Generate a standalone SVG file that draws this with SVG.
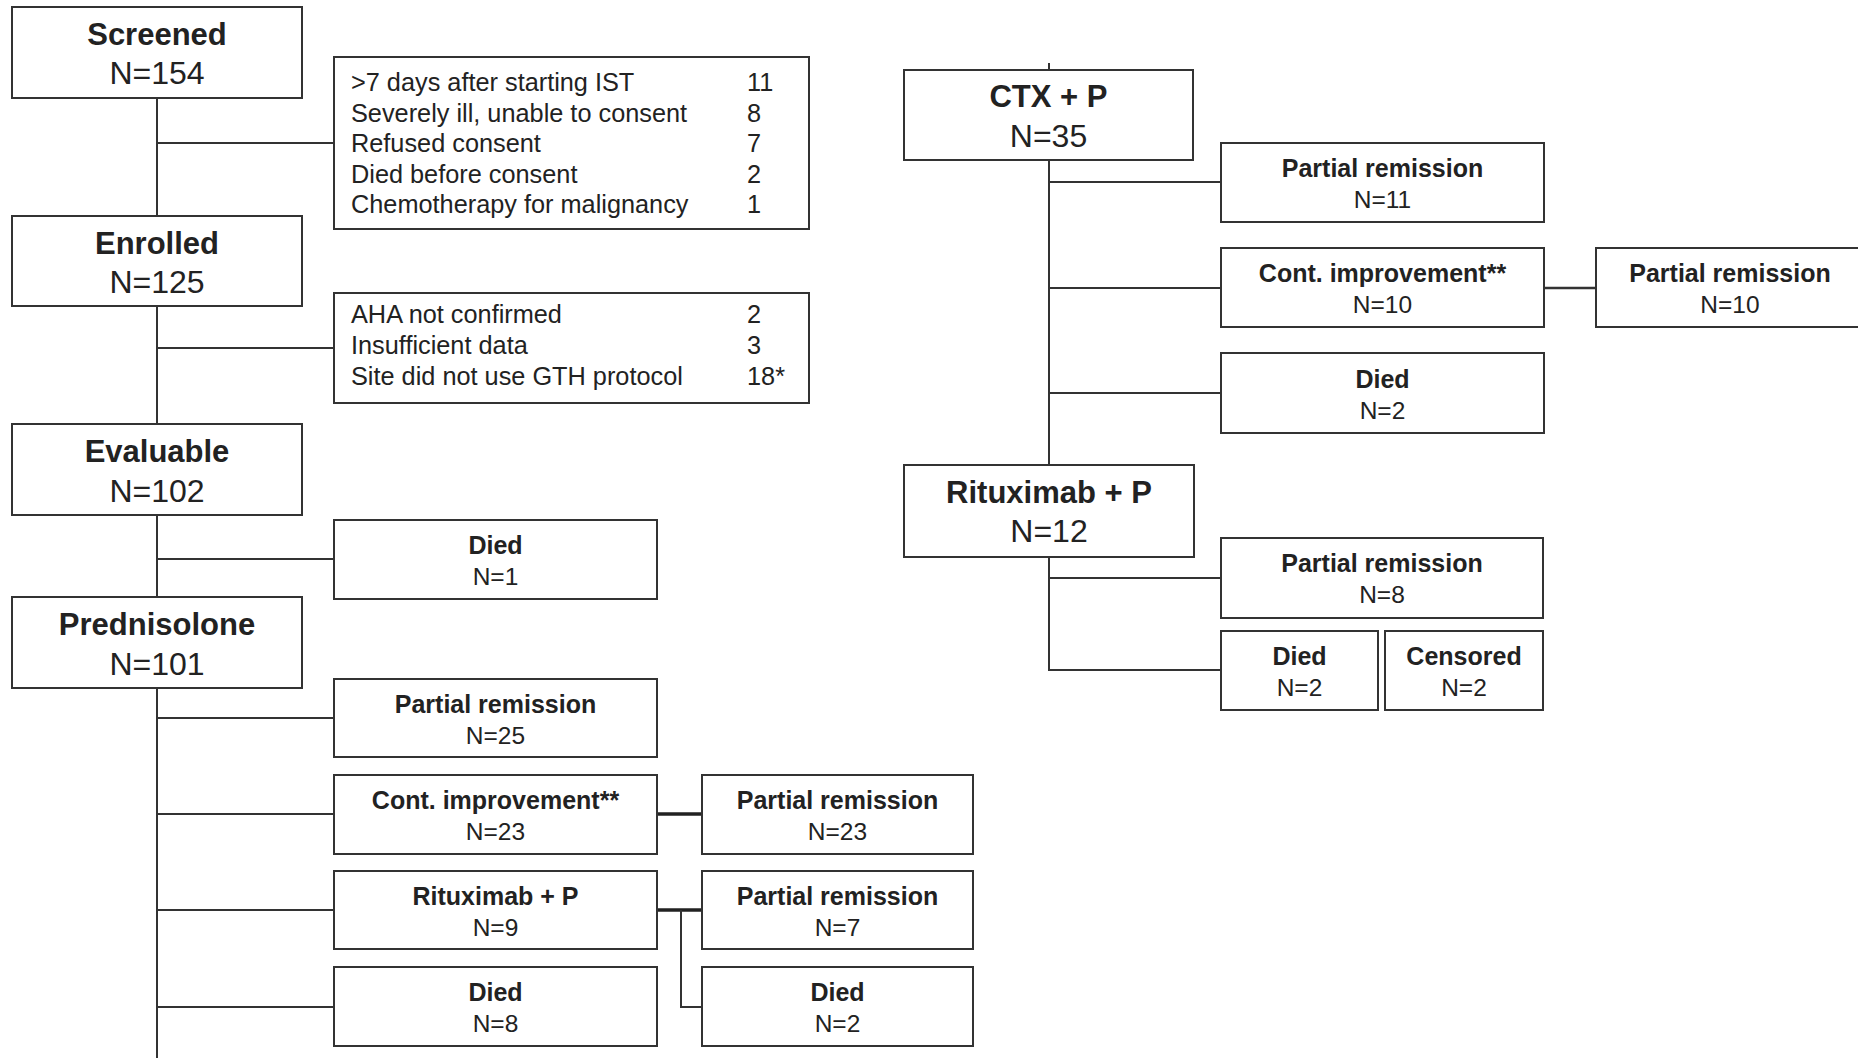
<svg xmlns="http://www.w3.org/2000/svg" width="1858" height="1058" viewBox="0 0 1858 1058">
<style>
.bg{fill:#ffffff}
.box{fill:#ffffff;stroke:#333333;stroke-width:2}
.ln{fill:none;stroke:#333333;stroke-width:2}
.thick{fill:none;stroke:#222222;stroke-width:3.5}
.t{font-family:"Liberation Sans",Arial,sans-serif;fill:#222222}
.mt{font-size:31px;font-weight:bold;text-anchor:middle}
.mn{font-size:32px;text-anchor:middle}
.st{font-size:25px;font-weight:bold;text-anchor:middle}
.sn{font-size:24.5px;text-anchor:middle}
.ex{font-size:25.3px}
</style>
<rect class="bg" x="0" y="0" width="1858" height="1058"/>
<g id="connectors">
  <line class="ln" x1="157" y1="98" x2="157" y2="1058"/>
  <line class="ln" x1="157" y1="143" x2="334" y2="143"/>
  <line class="ln" x1="157" y1="348" x2="334" y2="348"/>
  <line class="ln" x1="157" y1="559" x2="334" y2="559"/>
  <line class="ln" x1="157" y1="718" x2="334" y2="718"/>
  <line class="ln" x1="157" y1="814" x2="334" y2="814"/>
  <line class="ln" x1="157" y1="910" x2="334" y2="910"/>
  <line class="ln" x1="157" y1="1007" x2="334" y2="1007"/>
  <line class="thick" x1="657" y1="814" x2="702" y2="814"/>
  <line class="thick" x1="657" y1="910" x2="702" y2="910"/>
  <polyline class="ln" points="681,910 681,1007 702,1007"/>
  <line class="ln" x1="1049" y1="63" x2="1049" y2="70"/>
  <line class="ln" x1="1049" y1="160" x2="1049" y2="465"/>
  <line class="ln" x1="1049" y1="182" x2="1221" y2="182"/>
  <line class="ln" x1="1049" y1="288" x2="1221" y2="288"/>
  <line class="ln" x1="1049" y1="393" x2="1221" y2="393"/>
  <line class="ln" x1="1544" y1="288" x2="1596" y2="288" style="stroke-width:2.5"/>
  <polyline class="ln" points="1049,557 1049,670 1221,670"/>
  <line class="ln" x1="1049" y1="578" x2="1221" y2="578"/>
</g>
<g id="screened">
  <rect class="box" x="12" y="7" width="290" height="91"/>
  <text class="t mt" x="157" y="45">Screened</text>
  <text class="t mn" x="157" y="84">N=154</text>
</g>
<g id="exclusion1">
  <rect class="box" x="334" y="57" width="475" height="172"/>
  <text class="t ex" x="351" y="91">&gt;7 days after starting IST</text>
  <text class="t ex" x="747" y="91">11</text>
  <text class="t ex" x="351" y="122">Severely ill, unable to consent</text>
  <text class="t ex" x="747" y="122">8</text>
  <text class="t ex" x="351" y="152">Refused consent</text>
  <text class="t ex" x="747" y="152">7</text>
  <text class="t ex" x="351" y="183">Died before consent</text>
  <text class="t ex" x="747" y="183">2</text>
  <text class="t ex" x="351" y="213">Chemotherapy for malignancy</text>
  <text class="t ex" x="747" y="213">1</text>
</g>
<g id="enrolled">
  <rect class="box" x="12" y="216" width="290" height="90"/>
  <text class="t mt" x="157" y="254">Enrolled</text>
  <text class="t mn" x="157" y="293">N=125</text>
</g>
<g id="exclusion2">
  <rect class="box" x="334" y="293" width="475" height="110"/>
  <text class="t ex" x="351" y="323">AHA not confirmed</text>
  <text class="t ex" x="747" y="323">2</text>
  <text class="t ex" x="351" y="354">Insufficient data</text>
  <text class="t ex" x="747" y="354">3</text>
  <text class="t ex" x="351" y="385">Site did not use GTH protocol</text>
  <text class="t ex" x="747" y="385">18*</text>
</g>
<g id="evaluable">
  <rect class="box" x="12" y="424" width="290" height="91"/>
  <text class="t mt" x="157" y="462">Evaluable</text>
  <text class="t mn" x="157" y="502">N=102</text>
</g>
<g id="died1">
  <rect class="box" x="334" y="520" width="323" height="79"/>
  <text class="t st" x="495.5" y="554">Died</text>
  <text class="t sn" x="495.5" y="585">N=1</text>
</g>
<g id="prednisolone">
  <rect class="box" x="12" y="597" width="290" height="91"/>
  <text class="t mt" x="157" y="635">Prednisolone</text>
  <text class="t mn" x="157" y="675">N=101</text>
</g>
<g id="pred-pr">
  <rect class="box" x="334" y="679" width="323" height="78"/>
  <text class="t st" x="495.5" y="713">Partial remission</text>
  <text class="t sn" x="495.5" y="744">N=25</text>
</g>
<g id="pred-ci">
  <rect class="box" x="334" y="775" width="323" height="79"/>
  <text class="t st" x="495.5" y="809">Cont. improvement**</text>
  <text class="t sn" x="495.5" y="840">N=23</text>
</g>
<g id="pred-ci-pr">
  <rect class="box" x="702" y="775" width="271" height="79"/>
  <text class="t st" x="837.5" y="809">Partial remission</text>
  <text class="t sn" x="837.5" y="840">N=23</text>
</g>
<g id="pred-rp">
  <rect class="box" x="334" y="871" width="323" height="78"/>
  <text class="t st" x="495.5" y="905">Rituximab + P</text>
  <text class="t sn" x="495.5" y="936">N=9</text>
</g>
<g id="pred-rp-pr">
  <rect class="box" x="702" y="871" width="271" height="78"/>
  <text class="t st" x="837.5" y="905">Partial remission</text>
  <text class="t sn" x="837.5" y="936">N=7</text>
</g>
<g id="pred-died">
  <rect class="box" x="334" y="967" width="323" height="79"/>
  <text class="t st" x="495.5" y="1001">Died</text>
  <text class="t sn" x="495.5" y="1032">N=8</text>
</g>
<g id="pred-rp-died">
  <rect class="box" x="702" y="967" width="271" height="79"/>
  <text class="t st" x="837.5" y="1001">Died</text>
  <text class="t sn" x="837.5" y="1032">N=2</text>
</g>
<g id="ctx">
  <rect class="box" x="904" y="70" width="289" height="90"/>
  <text class="t mt" x="1048.5" y="107">CTX + P</text>
  <text class="t mn" x="1048.5" y="147">N=35</text>
</g>
<g id="ctx-pr">
  <rect class="box" x="1221" y="143" width="323" height="79"/>
  <text class="t st" x="1382.5" y="177">Partial remission</text>
  <text class="t sn" x="1382.5" y="208">N=11</text>
</g>
<g id="ctx-ci">
  <rect class="box" x="1221" y="248" width="323" height="79"/>
  <text class="t st" x="1382.5" y="282">Cont. improvement**</text>
  <text class="t sn" x="1382.5" y="313">N=10</text>
</g>
<g id="ctx-ci-pr">
  <rect class="box" x="1596" y="248" width="270" height="79"/>
  <text class="t st" x="1730" y="282">Partial remission</text>
  <text class="t sn" x="1730" y="313">N=10</text>
</g>
<g id="ctx-died">
  <rect class="box" x="1221" y="353" width="323" height="80"/>
  <text class="t st" x="1382.5" y="388">Died</text>
  <text class="t sn" x="1382.5" y="419">N=2</text>
</g>
<g id="rtx">
  <rect class="box" x="904" y="465" width="290" height="92"/>
  <text class="t mt" x="1049" y="503">Rituximab + P</text>
  <text class="t mn" x="1049" y="542">N=12</text>
</g>
<g id="rtx-pr">
  <rect class="box" x="1221" y="538" width="322" height="80"/>
  <text class="t st" x="1382" y="572">Partial remission</text>
  <text class="t sn" x="1382" y="603">N=8</text>
</g>
<g id="rtx-died">
  <rect class="box" x="1221" y="631" width="157" height="79"/>
  <text class="t st" x="1299.5" y="665">Died</text>
  <text class="t sn" x="1299.5" y="696">N=2</text>
</g>
<g id="rtx-censored">
  <rect class="box" x="1385" y="631" width="158" height="79"/>
  <text class="t st" x="1464" y="665">Censored</text>
  <text class="t sn" x="1464" y="696">N=2</text>
</g>
</svg>
